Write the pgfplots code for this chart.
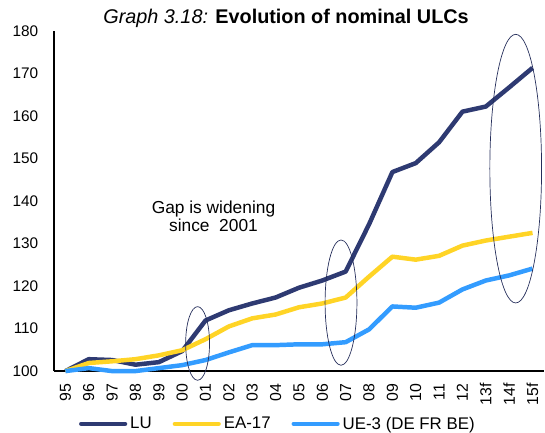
\documentclass[border=0pt]{standalone}
\usepackage{pgfplots}
\pgfplotsset{compat=1.18}
\usepackage{fontspec}
\setmainfont{Liberation Sans}
\definecolor{lu}{HTML}{2E3A72}
\definecolor{ea}{HTML}{FFD426}
\definecolor{ue}{HTML}{339CFF}
\begin{document}
\begin{tikzpicture}
\begin{axis}[
  scale only axis, width=493bp, height=342bp,
  xmin=-0.5, xmax=20.5, ymin=100, ymax=180,
  ytick={100,110,...,180},
  xtick={0,...,20},
  xticklabels={95,96,97,98,99,00,01,02,03,04,05,06,07,08,09,10,11,12,13f,14f,15f},
  x tick label style={rotate=90, anchor=east, font=\fontsize{16}{18}\selectfont},
  y tick label style={font=\fontsize{15.5}{17}\selectfont},
  /pgf/number format/assume math mode=true,
  axis x line*=bottom, axis y line*=left,
  axis line style={-, line width=1.6pt},
  major tick length=0pt,
  xticklabel style={xshift=-9bp},
  yticklabel style={xshift=-12bp},
  clip=false,
  legend style={at={(0.457,-0.155)}, anchor=center, draw=none, legend columns=-1,
    font=\fontsize{17}{19}\selectfont, column sep=1bp, inner sep=0pt,
    /tikz/every even column/.append style={column sep=19bp}},
  legend image code/.code={\draw[#1, line cap=round] (0cm,0cm) -- (1.55cm,0cm);},
]
\addplot[lu, line width=4.5bp, line join=round] coordinates {
(0,100) (1,102.8) (2,102.6) (3,101.5) (4,102.1) (5,104.7) (6,111.9) (7,114.3) (8,115.9) (9,117.3) (10,119.6) (11,121.3) (12,123.4) (13,134.5) (14,146.8) (15,148.9) (16,153.8) (17,161.0) (18,162.2) (19,166.7) (20,171.3)};
\addlegendentry{LU}
\addplot[ea, line width=4.5bp, line join=round] coordinates {
(0,100) (1,101.9) (2,102.3) (3,102.8) (4,103.7) (5,104.9) (6,107.5) (7,110.5) (8,112.4) (9,113.3) (10,115.0) (11,115.9) (12,117.3) (13,122.2) (14,126.9) (15,126.2) (16,127.1) (17,129.5) (18,130.7) (19,131.6) (20,132.5)};
\addlegendentry{EA-17}
\addplot[ue, line width=4.5bp, line join=round] coordinates {
(0,100) (1,100.7) (2,100.0) (3,100.0) (4,100.7) (5,101.4) (6,102.6) (7,104.4) (8,106.1) (9,106.1) (10,106.3) (11,106.3) (12,106.8) (13,109.8) (14,115.2) (15,114.9) (16,116.1) (17,119.2) (18,121.3) (19,122.5) (20,124.1)};
\addlegendentry{UE-3 (DE FR BE)}
\draw[lu!80!black, line width=0.7bp] (axis cs:5.66,106.5) ellipse [x radius=12bp, y radius=37bp];
\draw[lu!80!black, line width=0.7bp] (axis cs:11.8,116.1) ellipse [x radius=16bp, y radius=63bp];
\draw[lu!80!black, line width=0.7bp] (axis cs:19.28,147.6) ellipse [x radius=26bp, y radius=135bp];
\node[align=center, font=\fontsize{17.5}{15}\selectfont] at (axis cs:6.34,136.4) {Gap is widening\\since\ \ 2001};
\end{axis}
\node[font=\fontsize{20}{22}\selectfont] at (233.5bp,355bp) {\textit{Graph 3.18:} \textbf{Evolution of nominal ULCs}};
\useasboundingbox (-54bp,-61bp) rectangle (491bp,373bp);
\end{tikzpicture}
\end{document}
